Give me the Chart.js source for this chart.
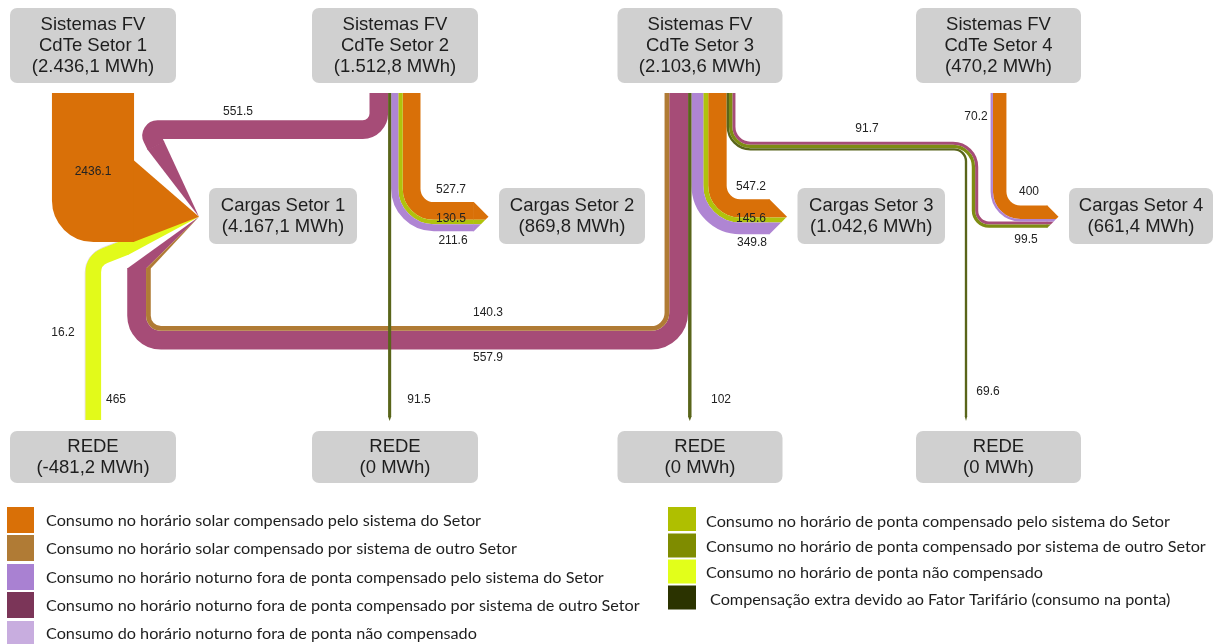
<!DOCTYPE html>
<html>
<head>
<meta charset="utf-8">
<script src="https://cdn.jsdelivr.net/npm/chart.js@4.4.1/dist/chart.umd.min.js"></script>
<style>
  html, body { margin: 0; padding: 0; background: #fff; }
  #wrap { width: 1220px; height: 644px; }
</style>
</head>
<body>
<div id="wrap"><canvas id="myChart" width="1220" height="644"></canvas></div>
<script>
// nodes: 0-3 sistemas FV, 4-7 cargas, 8-11 rede
const nodeNames = ['Sistemas FV\nCdTe Setor 1', 'Sistemas FV\nCdTe Setor 2', 'Sistemas FV\nCdTe Setor 3', 'Sistemas FV\nCdTe Setor 4',
  'Cargas Setor 1', 'Cargas Setor 2', 'Cargas Setor 3', 'Cargas Setor 4',
  'REDE', 'REDE', 'REDE', 'REDE']
const nodeTotals = [2436.1, 1512.8, 2103.6, 470.2, 4167.1, 869.8, 1042.6, 661.4, -481.2, 0, 0, 0]

// flows (MWh)
const flowFrom  = [0, 1, 1, 1, 1, 1, 2, 2, 2, 2, 2, 2, 2, 2, 2, 3, 3, 8, 8]
const flowTo    = [4, 4, 5, 5, 5, 9, 4, 4, 6, 6, 6, 10, 7, 7, 11, 7, 7, 4, 4]
const flowValue = [2436.1, 551.5, 527.7, 130.5, 211.6, 91.5, 140.3, 557.9, 547.2, 145.6, 349.8, 102, 91.7, 99.5, 69.6, 400, 70.2, 465, 16.2]
const flowType  = [0, 3, 0, 5, 2, 8, 1, 3, 0, 5, 2, 8, 3, 6, 8, 0, 2, 7, 4]

const legendLabels = [
  'Consumo no horário solar compensado pelo sistema do Setor',
  'Consumo no horário solar compensado por sistema de outro Setor',
  'Consumo no horário noturno fora de ponta compensado pelo sistema do Setor',
  'Consumo no horário noturno fora de ponta compensado por sistema de outro Setor',
  'Consumo do horário noturno fora de ponta não compensado',
  'Consumo no horário de ponta compensado pelo sistema do Setor',
  'Consumo no horário de ponta compensado por sistema de outro Setor',
  'Consumo no horário de ponta não compensado',
  'Compensação extra devido ao Fator Tarifário (consumo na ponta)'
]

// styles
const flowColors   = ['#d97008', '#b07b35', '#af85d3', '#a64c77', '#c9ade0', '#b0c20c', '#7e8c12', '#e2fa1a', '#59651a']
const legendColors = ['#d97007', '#b07b35', '#a981d2', '#7b3558', '#c8addf', '#afbf00', '#7f8c00', '#e2ff1a', '#2b3300']

const K = 0.0337 // chart units per MWh

// layout (chart units, y down)
const layout = {
  boxes: [[10, 8, 166, 75], [312, 8, 166, 75], [617.5, 8, 165, 75], [916, 8, 165, 75],
    [209, 188, 148, 56], [499, 188, 146, 56], [797.5, 188, 147.5, 56], [1069, 188, 144, 56],
    [10, 431, 166, 52], [312, 431, 166, 52], [617.5, 431, 165, 52], [916, 431, 165, 52]],
  sourceStack: { 0: [0], 1: [1, 5, 4, 3, 2], 2: [6, 7, 11, 10, 9, 8, 14, 13, 12], 3: [16, 15], 8: [18, 17] },
  targetStack: { 5: [2, 3, 4], 6: [8, 9, 10], 7: [15, 16, 12, 13] },
  arrowY: 216.7,
  arrowGap: 10.5,
  bundles: [
    { flows: [7, 6], src: true, path: [[0, 93], [0, 337.8], [139, 337.8], [139, 268]], r: [25, 22], end: 'tip', tip: [199, 216.7] },
    { flows: [1], src: true, path: [[0, 93], [0, 129.6], [148, 129.6], [156, 146]], r: [16, 6], end: 'tip', tip: [199, 216.7] },
    { flows: [18, 17], src: true, path: [[0, 420], [0, 260], [126, 247]], r: [18], end: 'tip', tip: [199, 216.7] },
    { flows: [0], src: true, path: [[0, 93], [0, 201], [134.05, 201]], r: [0.5], end: 'tip', tip: [199, 216.7] },
    { flows: [2, 3, 4], src: true, path: [[0, 93], [0, 0], [0, 0]], r: [28], end: 'arrow' },
    { flows: [8, 9, 10], src: true, path: [[0, 93], [0, 0], [0, 0]], r: [31], end: 'arrow' },
    { flows: [12, 13], src: true, path: [[0, 93], [0, 144.9], [975, 144.9], [975, 0], [0, 0]], r: [18.2, 22, 14], end: 'arrow' },
    { flows: [15, 16], src: true, path: [[0, 93], [0, 0], [0, 0]], r: [22], end: 'arrow' },
    { flows: [14], src: true, path: [[0, 93], [0, 149.3], [966, 149.3], [966, 417]], r: [22.6, 12], end: 'taper' },
    { flows: [5], src: true, path: [[0, 93], [0, 417]], r: [], end: 'taper' },
    { flows: [11], src: true, path: [[0, 93], [0, 417]], r: [], end: 'taper' }
  ],
  labelPos: [[93, 172], [238, 112], [451, 190], [451, 219], [453, 241], [419, 400], [488, 313], [488, 358],
    [751, 187], [751, 219], [752, 243], [721, 400], [867, 129], [1026, 240], [988, 392], [1029, 192],
    [976, 117], [116, 400], [63, 333]],
  legend: {
    left:  { x: 7, w: 27, tops: [507, 535, 564, 592, 621], h: [26, 26, 26, 26, 24], textX: [46, 46, 46, 46, 46], textY: [521, 549, 578, 606, 634] },
    right: { x: 668, w: 28, tops: [507, 533.5, 559.5, 585.5], h: [24, 24, 24, 24], textX: [706, 706, 706, 710], textY: [521.5, 547, 573, 599.5] }
  }
}

const fmtBR = v => {
  if (v === 0) return '0'
  const s = Math.abs(v).toFixed(1).split('.')
  return (v < 0 ? '-' : '') + s[0].replace(/\B(?=(\d{3})+(?!\d))/g, '.') + ',' + s[1]
}

const leftNormal = (a, b) => {
  const dx = b[0] - a[0], dy = b[1] - a[1], l = Math.hypot(dx, dy)
  return [dy / l, -dx / l]
}
const turn = (a, b, c) => (b[0] - a[0]) * (c[1] - b[1]) - (b[1] - a[1]) * (c[0] - b[0])

const offsetPath = (pts, d) => pts.map((p, i) => {
  const ns = []
  if (i > 0) ns.push(leftNormal(pts[i - 1], p))
  if (i < pts.length - 1) ns.push(leftNormal(p, pts[i + 1]))
  let nx = ns[0][0], ny = ns[0][1]
  if (ns.length === 2) {
    const dot = ns[0][0] * ns[1][0] + ns[0][1] * ns[1][1]
    nx = (ns[0][0] + ns[1][0]) / (1 + dot)
    ny = (ns[0][1] + ns[1][1]) / (1 + dot)
  }
  return [p[0] + d * nx, p[1] + d * ny]
})

const sumW = list => list.reduce((s, f) => s + flowValue[f] * K, 0)

const srcCenter = b => {
  const node = flowFrom[b.flows[0]]
  const stack = layout.sourceStack[node]
  const box = layout.boxes[node]
  let x = box[0] + box[2] / 2 - sumW(stack) / 2
  for (const f of stack) { if (b.flows.includes(f)) break; x += flowValue[f] * K }
  return x + sumW(b.flows) / 2
}

const arrowInfo = node => {
  const stack = layout.targetStack[node]
  const half = sumW(stack) / 2
  const tipX = layout.boxes[node][0] - layout.arrowGap
  return { tipX, base: tipX - half, yc: layout.arrowY, half, top: layout.arrowY - half, stack }
}

const sankeyPlugin = {
  id: 'sankeyPaths',
  beforeDraw(chart) {
    const c = chart.ctx
    c.save(); c.fillStyle = '#fff'; c.fillRect(0, 0, chart.width, chart.height); c.restore()
  },
  afterDraw(chart) {
    const ctx = chart.ctx
    const xs = chart.scales.x, ys = chart.scales.y
    const P = pt => [xs.getPixelForValue(pt[0]), ys.getPixelForValue(pt[1])]
    const W = v => Math.abs(ys.getPixelForValue(v * K) - ys.getPixelForValue(0))
    const U = u => Math.abs(xs.getPixelForValue(u) - xs.getPixelForValue(0))
    ctx.save()

    layout.bundles.forEach(b => {
      const path = b.path.map(p => p.slice())
      if (b.src) { const cx = srcCenter(b); path[0][0] = cx; path[1][0] = cx }
      let arrow = null
      if (b.end === 'arrow') {
        arrow = arrowInfo(flowTo[b.flows[0]])
        let y = arrow.top
        for (const f of arrow.stack) { if (b.flows.includes(f)) break; y += flowValue[f] * K }
        y += sumW(b.flows) / 2
        const n = path.length
        path[n - 1][1] = y; path[n - 2][1] = y; path[n - 1][0] = arrow.base
      }
      const pts = path.map(P)
      const widths = b.flows.map(f => W(flowValue[f]))
      const total = widths.reduce((s, w) => s + w, 0)
      let cum = 0
      b.flows.forEach((f, k) => {
        const w = widths[k]
        const d = total / 2 - cum - w / 2
        cum += w
        const color = flowColors[flowType[f]]
        const p = offsetPath(pts, d)
        ctx.beginPath()
        ctx.moveTo(p[0][0], p[0][1])
        for (let i = 1; i < p.length - 1; i++) {
          const t = turn(pts[i - 1], pts[i], pts[i + 1])
          const r = Math.max(0.1, U(b.r[i - 1]) + (t > 0 ? d : -d))
          ctx.arcTo(p[i][0], p[i][1], p[i + 1][0], p[i + 1][1], r)
        }
        const m = p.length - 1
        ctx.lineTo(p[m][0], p[m][1])
        ctx.lineWidth = w
        ctx.strokeStyle = color
        ctx.lineCap = 'butt'
        ctx.stroke()

        const nrm = leftNormal(p[m - 1], p[m])
        const dir = [-nrm[1], nrm[0]]
        const e = [p[m][0] - dir[0] * 0.6, p[m][1] - dir[1] * 0.6]
        const L = [e[0] + nrm[0] * w / 2, e[1] + nrm[1] * w / 2]
        const R = [e[0] - nrm[0] * w / 2, e[1] - nrm[1] * w / 2]
        ctx.fillStyle = color
        ctx.beginPath()
        if (b.end === 'tip') {
          const tp = P(b.tip)
          ctx.moveTo(L[0], L[1]); ctx.lineTo(R[0], R[1]); ctx.lineTo(tp[0], tp[1])
        } else if (b.end === 'taper') {
          const tp = [p[m][0] + dir[0] * 4, p[m][1] + dir[1] * 4]
          ctx.moveTo(L[0], L[1]); ctx.lineTo(R[0], R[1]); ctx.lineTo(tp[0], tp[1])
        } else if (arrow) {
          const base = xs.getPixelForValue(arrow.base)
          const tipX = xs.getPixelForValue(arrow.tipX)
          const yc = ys.getPixelForValue(arrow.yc)
          const half = U(arrow.half)
          const xAt = y => base + Math.max(0, half - Math.abs(y - yc)) * (tipX - base) / half
          const yT = Math.min(L[1], R[1]), yB = Math.max(L[1], R[1])
          ctx.moveTo(base - 0.6, yT)
          ctx.lineTo(xAt(yT), yT)
          if (yT < yc && yB > yc) ctx.lineTo(tipX, yc)
          ctx.lineTo(xAt(yB), yB)
          ctx.lineTo(base - 0.6, yB)
        }
        ctx.closePath()
        ctx.fill()
      })
    })

    // node boxes
    ctx.textAlign = 'center'
    ctx.textBaseline = 'middle'
    layout.boxes.forEach((bx, i) => {
      const x0 = xs.getPixelForValue(bx[0]), y0 = ys.getPixelForValue(bx[1])
      const w = U(bx[2]), h = U(bx[3])
      ctx.fillStyle = '#d0d0d0'
      ctx.beginPath()
      ctx.roundRect(x0, y0, w, h, 7)
      ctx.fill()
      const lines = nodeNames[i].split('\n').concat('(' + fmtBR(nodeTotals[i]) + ' MWh)')
      ctx.fillStyle = '#1e1e1e'
      ctx.font = '18.5px "Liberation Sans", Arial, sans-serif'
      const cy = y0 + h / 2
      lines.forEach((t, j) => ctx.fillText(t, x0 + w / 2, cy + (j - (lines.length - 1) / 2) * 21))
    })

    // flow labels
    ctx.font = '12px "Liberation Sans", Arial, sans-serif'
    ctx.fillStyle = '#222'
    flowValue.forEach((v, i) => {
      const p = P(layout.labelPos[i])
      ctx.fillText(String(v), p[0], p[1])
    })

    // legend
    ctx.font = '16px Lato, sans-serif'
    const ref = ctx.measureText(legendLabels[3]).width
    const fs = 16 * 594 / ref
    ctx.font = fs.toFixed(2) + 'px Lato, sans-serif'
    ctx.textAlign = 'left'
    const cols = [layout.legend.left, layout.legend.right]
    legendLabels.forEach((lab, i) => {
      const col = i < 5 ? cols[0] : cols[1]
      const k = i < 5 ? i : i - 5
      ctx.fillStyle = legendColors[i]
      ctx.fillRect(xs.getPixelForValue(col.x), ys.getPixelForValue(col.tops[k]), U(col.w), U(col.h[k]))
      ctx.fillStyle = '#1e1e1e'
      ctx.fillText(lab, xs.getPixelForValue(col.textX[k]), ys.getPixelForValue(col.textY[k]))
    })
    ctx.restore()
  }
}

const ctx = document.getElementById('myChart')
const chart = new Chart(ctx, {
  type: 'scatter',
  data: { datasets: [] },
  options: {
    responsive: false,
    animation: false,
    layout: { padding: 0 },
    scales: {
      x: { type: 'linear', min: 0, max: 1220, display: false },
      y: { type: 'linear', min: 0, max: 644, reverse: true, display: false }
    },
    plugins: { legend: { display: false }, tooltip: { enabled: false } }
  },
  plugins: [sankeyPlugin]
})
</script>
</body>
</html>
